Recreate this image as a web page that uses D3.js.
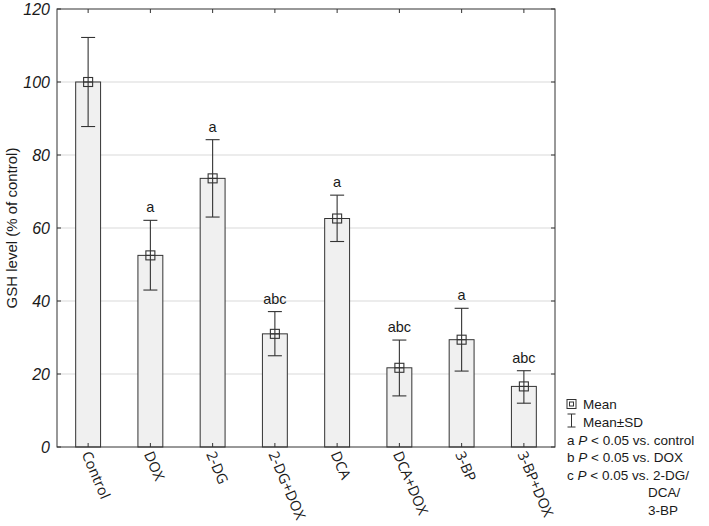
<!DOCTYPE html>
<html>
<head>
<meta charset="utf-8">
<script src="https://cdn.jsdelivr.net/npm/d3@7"></script>
<style>
  html, body { margin: 0; padding: 0; background: #fff; }
  svg { display: block; }
  text { font-family: "Liberation Sans", Arial, sans-serif; fill: #1a1a1a; }
</style>
</head>
<body>
<svg id="chart" width="709" height="526"></svg>
<script>
const categories = ["Control", "DOX", "2-DG", "2-DG+DOX", "DCA", "DCA+DOX", "3-BP", "3-BP+DOX"];
const means = [100, 52.5, 73.6, 31, 62.6, 21.7, 29.4, 16.6];
const sdUpper = [112.2, 62.1, 84.2, 37.1, 69, 29.3, 38, 20.9];
const sdLower = [87.8, 43, 63, 25, 56.3, 14, 20.8, 12];
const sigLabels = ["", "a", "a", "abc", "a", "abc", "a", "abc"];
const yTicks = [0, 20, 40, 60, 80, 100, 120];
const yLabel = "GSH level (% of control)";

const svg = d3.select("#chart");
const L = 57, R = 555, T = 9, B = 447;

const x = d3.scaleBand().domain(categories).range([L, R]).padding(0);
const y = d3.scaleLinear().domain([0, 120]).range([B, T]);
const barW = x.bandwidth() * 0.4;
const cx = d => x(d) + x.bandwidth() / 2;
const stroke = "#333";

// gridlines
svg.append("g").selectAll("line").data(yTicks.filter(t => t > 0 && t < 120)).join("line")
  .attr("x1", L).attr("x2", R).attr("y1", d => y(d)).attr("y2", d => y(d))
  .attr("stroke", "#d9d9d9").attr("stroke-width", 1);

// bars
const data = categories.map((c, i) => ({c, m: means[i], hi: sdUpper[i], lo: sdLower[i], s: sigLabels[i]}));
svg.append("g").selectAll("rect").data(data).join("rect")
  .attr("x", d => cx(d.c) - barW / 2).attr("width", barW)
  .attr("y", d => y(d.m)).attr("height", d => B - y(d.m))
  .attr("fill", "#f0f0f0").attr("stroke", stroke).attr("stroke-width", 1);

// error bars
const eb = svg.append("g").attr("stroke", stroke).attr("stroke-width", 1.1).attr("fill", "none");
const capW = 14;
data.forEach(d => {
  const X = cx(d.c);
  eb.append("line").attr("x1", X).attr("x2", X).attr("y1", y(d.hi)).attr("y2", y(d.lo));
  eb.append("line").attr("x1", X - capW / 2).attr("x2", X + capW / 2).attr("y1", y(d.hi)).attr("y2", y(d.hi));
  eb.append("line").attr("x1", X - capW / 2).attr("x2", X + capW / 2).attr("y1", y(d.lo)).attr("y2", y(d.lo));
  // mean marker
  eb.append("rect").attr("x", X - 4.5).attr("y", y(d.m) - 4.5).attr("width", 9).attr("height", 9);
  eb.append("line").attr("x1", X - 4.5).attr("x2", X + 4.5).attr("y1", y(d.m)).attr("y2", y(d.m));
  if (d.s) {
    svg.append("text").attr("x", X).attr("y", y(d.hi) - 8)
      .attr("text-anchor", "middle").attr("font-size", 14.5).text(d.s);
  }
});

// frame
svg.append("rect").attr("x", L).attr("y", T).attr("width", R - L).attr("height", B - T)
  .attr("fill", "none").attr("stroke", stroke).attr("stroke-width", 1);

// inner ticks
const tk = svg.append("g").attr("stroke", stroke).attr("stroke-width", 1);
categories.forEach(c => {
  tk.append("line").attr("x1", cx(c)).attr("x2", cx(c)).attr("y1", B).attr("y2", B - 4);
  tk.append("line").attr("x1", cx(c)).attr("x2", cx(c)).attr("y1", T).attr("y2", T + 4);
});
yTicks.forEach(t => {
  tk.append("line").attr("x1", L).attr("x2", L + 4).attr("y1", y(t)).attr("y2", y(t));
  tk.append("line").attr("x1", R).attr("x2", R - 4).attr("y1", y(t)).attr("y2", y(t));
});

// y tick labels
svg.append("g").selectAll("text").data(yTicks).join("text")
  .attr("x", 50).attr("y", d => y(d)).attr("dy", "0.35em")
  .attr("text-anchor", "end").attr("font-size", 16).attr("font-style", "italic")
  .text(d => d);

// y label
svg.append("text").attr("transform", `translate(17,${(T + B) / 2}) rotate(-90)`)
  .attr("text-anchor", "middle").attr("font-size", 15).text(yLabel);

// x labels
svg.append("g").selectAll("text").data(categories).join("text")
  .attr("transform", d => `translate(${cx(d) - 2},452) rotate(67)`)
  .attr("dy", "0.35em").attr("font-size", 14.5)
  .style("font-family", "'Open Sans', 'Noto Sans', sans-serif")
  .text(d => d);

// legend
const lg = svg.append("g");
const lx = 571.5;
lg.append("rect").attr("x", lx - 4.5).attr("y", 404 - 4.5).attr("width", 9).attr("height", 9)
  .attr("fill", "none").attr("stroke", stroke);
lg.append("rect").attr("x", lx - 2).attr("y", 404 - 2).attr("width", 4).attr("height", 4)
  .attr("fill", "none").attr("stroke", stroke);
lg.append("text").attr("x", 583).attr("y", 409).attr("font-size", 13.5).text("Mean");
lg.append("line").attr("x1", lx).attr("x2", lx).attr("y1", 414).attr("y2", 427).attr("stroke", stroke);
lg.append("line").attr("x1", lx - 4).attr("x2", lx + 4).attr("y1", 414).attr("y2", 414).attr("stroke", stroke);
lg.append("line").attr("x1", lx - 4).attr("x2", lx + 4).attr("y1", 427).attr("y2", 427).attr("stroke", stroke);
lg.append("text").attr("x", 583).attr("y", 427).attr("font-size", 13.5).text("Mean±SD");

const legendRows = [
  {k: "a", rest: " < 0.05 vs. control", y: 445},
  {k: "b", rest: " < 0.05 vs. DOX", y: 462},
  {k: "c", rest: " < 0.05 vs. 2-DG/", y: 480}
];
legendRows.forEach(r => {
  const t = lg.append("text").attr("x", 567).attr("y", r.y).attr("font-size", 13.5);
  t.append("tspan").text(r.k + " ");
  t.append("tspan").attr("font-style", "italic").text("P");
  t.append("tspan").text(r.rest);
});
lg.append("text").attr("x", 648).attr("y", 497).attr("font-size", 13.5).text("DCA/");
lg.append("text").attr("x", 648).attr("y", 515).attr("font-size", 13.5).text("3-BP");
</script>
</body>
</html>
